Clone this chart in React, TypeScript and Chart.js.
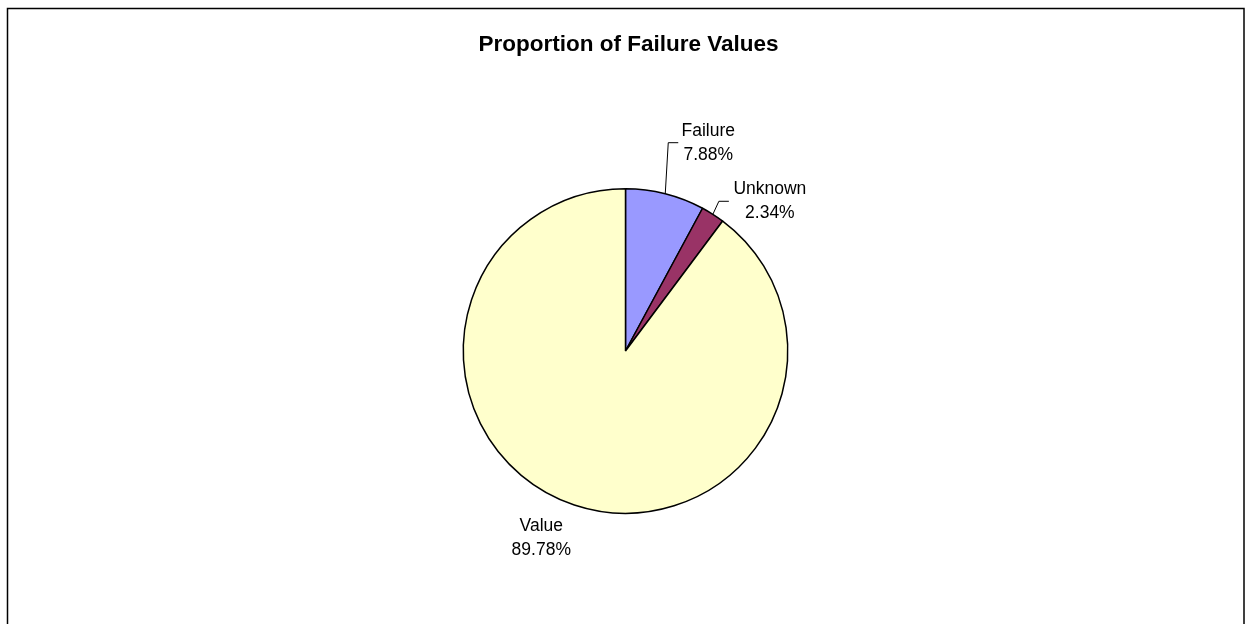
import React, { useEffect, useRef } from "react";
import { Chart, registerables } from "chart.js";

Chart.register(...registerables);

const categories = ["Failure", "Unknown", "Value"];
const values = [7.88, 2.34, 89.78];
const colors = ["#9999FF", "#993366", "#FFFFCC"];
const chartTitle = "Proportion of Failure Values";

// label placement relative to the slice's mid-angle edge point (style only)
const labelOffsets = [
  { dx: 43, dy: -58, leader: [[3, -51], [13, -51]] },
  { dx: 57, dy: -20, leader: [[6, -13], [16, -13]] },
  { dx: -33, dy: 26, leader: null as null | number[][] },
];

const FONT = '"Liberation Sans", Arial, sans-serif';

export default function App() {
  const ref = useRef<HTMLCanvasElement | null>(null);

  useEffect(() => {
    if (!ref.current) return;
    const framePlugin = {
      id: "frame",
      beforeDraw(chart: any) {
        const ctx = chart.ctx;
        ctx.save();
        ctx.fillStyle = "#ffffff";
        ctx.fillRect(0, 0, chart.width, chart.height);
        ctx.restore();
      },
      afterDraw(chart: any) {
        const ctx = chart.ctx;
        ctx.save();
        ctx.strokeStyle = "#000000";
        ctx.lineWidth = 1.5;
        ctx.strokeRect(7.5, 8.5, 1236.5, 700);
        ctx.fillStyle = "#000000";
        ctx.font = `bold 22.5px ${FONT}`;
        ctx.textAlign = "center";
        ctx.textBaseline = "alphabetic";
        ctx.fillText(chartTitle, 628.5, 51);
        ctx.restore();
      },
    };
    const labelPlugin = {
      id: "pieLabels",
      afterDatasetsDraw(chart: any) {
        const ctx = chart.ctx;
        const meta = chart.getDatasetMeta(0);
        ctx.save();
        meta.data.forEach((arc: any, i: number) => {
          const p = arc.getProps(["x", "y", "startAngle", "endAngle", "outerRadius"], true);
          const mid = (p.startAngle + p.endAngle) / 2;
          const ex = p.x + Math.cos(mid) * p.outerRadius;
          const ey = p.y + Math.sin(mid) * p.outerRadius;
          const o = labelOffsets[i];
          if (o.leader) {
            ctx.strokeStyle = "#000000";
            ctx.lineWidth = 1;
            ctx.beginPath();
            ctx.moveTo(ex, ey);
            o.leader.forEach((pt) => ctx.lineTo(ex + pt[0], ey + pt[1]));
            ctx.stroke();
          }
          ctx.fillStyle = "#000000";
          ctx.font = `17.5px ${FONT}`;
          ctx.textAlign = "center";
          ctx.textBaseline = "alphabetic";
          ctx.fillText(categories[i], ex + o.dx, ey + o.dy);
          ctx.fillText(values[i].toFixed(2) + "%", ex + o.dx, ey + o.dy + 24);
        });
        ctx.restore();
      },
    };

    const chart = new Chart(ref.current, {
      type: "pie",
      data: {
        labels: categories,
        datasets: [
          {
            data: values,
            backgroundColor: colors,
            borderColor: "#000000",
            borderWidth: 1.5,
          },
        ],
      },
      options: {
        responsive: false,
        animation: false,
        devicePixelRatio: 1,
        layout: { padding: { left: 6, right: 0, top: 188, bottom: 110 } },
        plugins: {
          legend: { display: false },
          tooltip: { enabled: false },
          title: { display: false },
        },
      },
      plugins: [framePlugin, labelPlugin],
    });
    return () => chart.destroy();
  }, []);

  return (
    <div style={{ position: "fixed", left: 0, top: 0, width: 1245, height: 624 }}>
      <canvas ref={ref} width={1245} height={624} style={{ display: "block" }} />
    </div>
  );
}
